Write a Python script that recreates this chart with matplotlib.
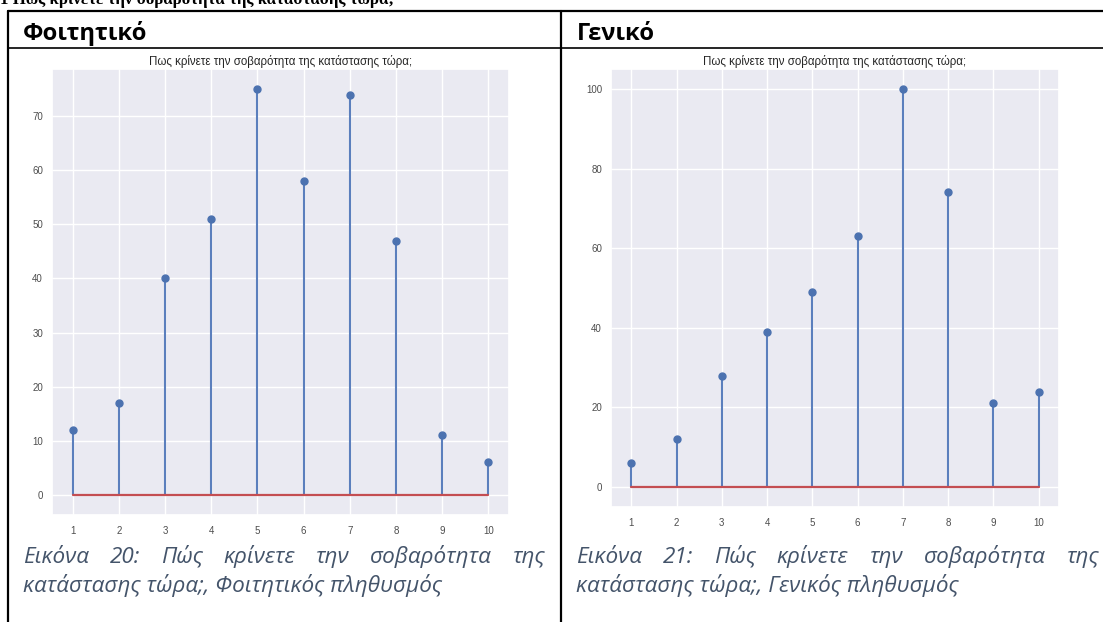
import matplotlib
matplotlib.use("Agg")
import matplotlib.pyplot as plt
import seaborn as sns
from matplotlib.ticker import MultipleLocator
from matplotlib.lines import Line2D

# ---- data ----
levels = [1, 2, 3, 4, 5, 6, 7, 8, 9, 10]
student_counts = [12, 17, 40, 51, 75, 58, 74, 47, 11, 6]
general_counts = [6, 12, 28, 39, 49, 63, 100, 74, 21, 24]
plot_title = "Πως κρίνετε την σοβαρότητα της κατάστασης τώρα;"
header_left = "Φοιτητικό"
header_right = "Γενικό"
section_text = "1 Πώς κρίνετε την σοβαρότητα της κατάστασης τώρα;"
cap_left_1 = ["Εικόνα", "20:", "Πώς", "κρίνετε", "την", "σοβαρότητα", "της"]
cap_left_2 = "κατάστασης τώρα;, Φοιτητικός πληθυσμός"
cap_right_1 = ["Εικόνα", "21:", "Πώς", "κρίνετε", "την", "σοβαρότητα", "της"]
cap_right_2 = "κατάστασης τώρα;, Γενικός πληθυσμός"

sns.set_theme(style="darkgrid")
plt.rcParams["font.family"] = ["Liberation Sans", "DejaVu Sans"]

W, H = 1103, 622
fig = plt.figure(figsize=(W / 100, H / 100), dpi=100)
fig.patch.set_facecolor("white")
renderer = fig.canvas.get_renderer()


def fx(x):
    return x / W


def fy(y):
    return 1 - y / H


def make_axes(x0, x1, y0, y1):
    return fig.add_axes([fx(x0), fy(y1), fx(x1) - fx(x0), fy(y0) - fy(y1)])


def stem_plot(ax, counts, step):
    ml, sl, bl = ax.stem(levels, counts, linefmt="-", markerfmt="o", basefmt="-")
    plt.setp(sl, linewidth=1.5, color="#5b7fbd")
    plt.setp(ml, markersize=5, color="#4c72b0")
    plt.setp(bl, linewidth=1.6, color="#c44e52")
    ax.set_xticks(levels)
    ax.yaxis.set_major_locator(MultipleLocator(step))
    ax.set_title(plot_title, fontsize=8.3, color="0.15", pad=3)
    ax.tick_params(axis="x", labelsize=7, length=0, pad=8, colors="0.3")
    ax.tick_params(axis="y", labelsize=7, length=0, pad=6.5, colors="0.3")
    ax.grid(True, color="white", linewidth=1.0)


axL = make_axes(52, 509, 69, 515)
stem_plot(axL, student_counts, 10)
axR = make_axes(611, 1059, 69, 507)
stem_plot(axR, general_counts, 20)


# ---- table borders ----
def hline(y, x0, x1, lw=1.6):
    fig.add_artist(Line2D([fx(x0), fx(x1)], [fy(y), fy(y)], color="black", lw=lw,
                          transform=fig.transFigure))


def vline(x, y0, y1, lw=1.6):
    fig.add_artist(Line2D([fx(x), fx(x)], [fy(y0), fy(y1)], color="black", lw=lw,
                          transform=fig.transFigure))


hline(11, 8, W)
hline(48, 8, W, lw=1.2)
vline(8, 11, H)
vline(561, 11, H)


def fit_size(text, target, **kw):
    t = fig.text(0, 0, text, fontsize=10, **kw)
    w = t.get_window_extent(renderer).width
    t.remove()
    return 10 * target / w


# ---- top section heading (cut by the page top in the reference) ----
sec_kw = dict(family="Liberation Serif", fontweight="bold")
fig.text(fx(0), fy(4), section_text, fontsize=fit_size(section_text, 395, **sec_kw),
         va="baseline", ha="left", color="black", **sec_kw)

# ---- headers ----
hdr_kw = dict(family=["Open Sans", "DejaVu Sans"], fontweight="bold")
hsz = fit_size(header_left, 124, **hdr_kw)
fig.text(fx(23), fy(40), header_left, fontsize=hsz, va="baseline", ha="left", color="black", **hdr_kw)
fig.text(fx(577), fy(40), header_right, fontsize=hsz, va="baseline", ha="left", color="black", **hdr_kw)

# ---- captions ----
cap_kw = dict(family=["Open Sans", "DejaVu Sans"], style="italic", color="#44546a")
csz = fit_size(cap_left_2, 418, **cap_kw)


def justified(words, x0, x1, y):
    widths = []
    for w in words:
        t = fig.text(0, 0, w, fontsize=csz, **cap_kw)
        widths.append(t.get_window_extent(renderer).width)
        t.remove()
    gap = (x1 - x0 - sum(widths)) / (len(words) - 1)
    x = x0
    for w, wd in zip(words, widths):
        fig.text(fx(x), fy(y), w, fontsize=csz, va="baseline", ha="left", **cap_kw)
        x += wd + gap


justified(cap_left_1, 23, 545, 563)
fig.text(fx(23), fy(592), cap_left_2, fontsize=csz, va="baseline", ha="left", **cap_kw)
justified(cap_right_1, 576, 1099, 563)
fig.text(fx(576), fy(592), cap_right_2, fontsize=csz, va="baseline", ha="left", **cap_kw)

fig.savefig("out.png", dpi=100, facecolor="white")
